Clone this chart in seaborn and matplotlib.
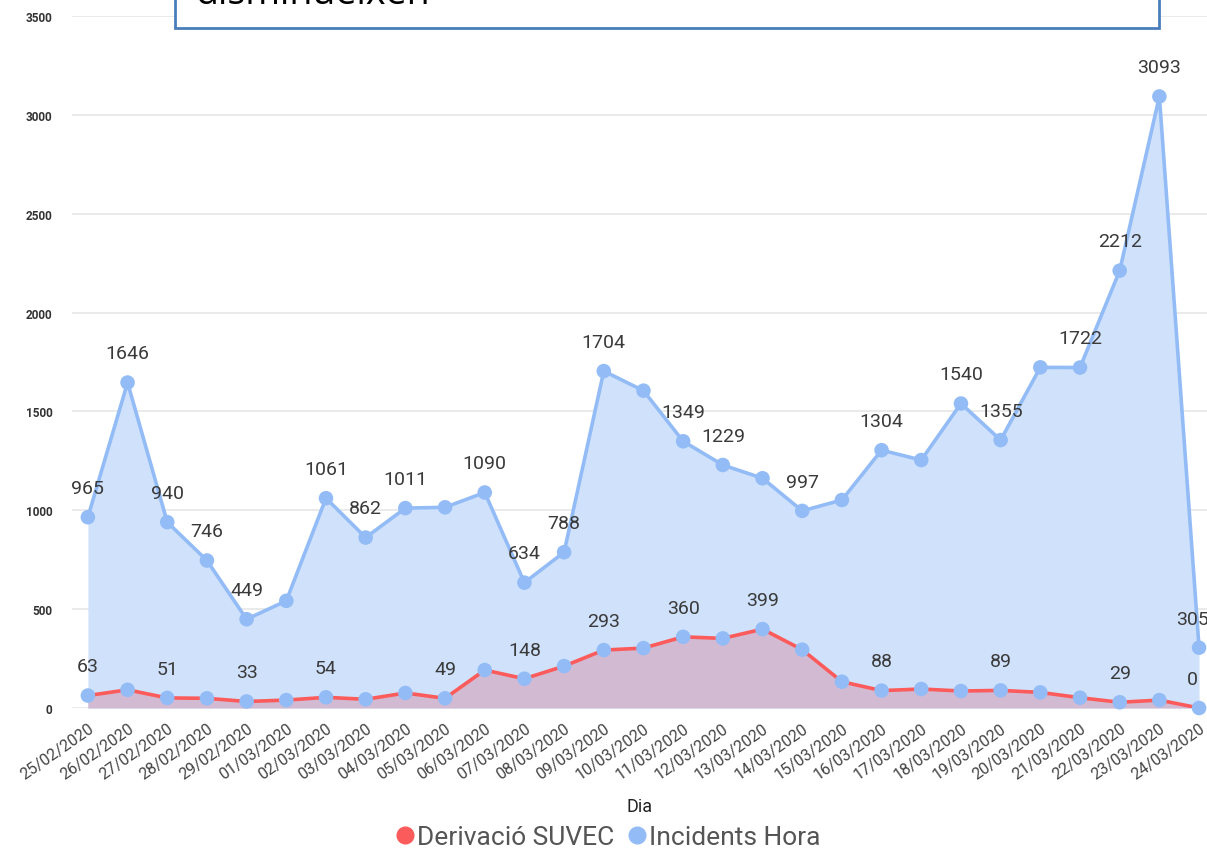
import pandas as pd
import matplotlib.pyplot as plt
import matplotlib.patches as mpatches
from matplotlib.lines import Line2D
import seaborn as sns

dies = ['25/02/2020', '26/02/2020', '27/02/2020', '28/02/2020', '29/02/2020',
        '01/03/2020', '02/03/2020', '03/03/2020', '04/03/2020', '05/03/2020',
        '06/03/2020', '07/03/2020', '08/03/2020', '09/03/2020', '10/03/2020',
        '11/03/2020', '12/03/2020', '13/03/2020', '14/03/2020', '15/03/2020',
        '16/03/2020', '17/03/2020', '18/03/2020', '19/03/2020', '20/03/2020',
        '21/03/2020', '22/03/2020', '23/03/2020', '24/03/2020']
incidents = [965, 1646, 940, 746, 449, 542, 1061, 862, 1011, 1015,
             1090, 634, 788, 1704, 1605, 1349, 1229, 1162, 997, 1052,
             1304, 1254, 1540, 1355, 1723, 1722, 2212, 3093, 305]
derivacio = [63, 92, 51, 49, 33, 40, 54, 44, 76, 49,
             192, 148, 212, 293, 303, 360, 352, 399, 295, 133,
             88, 96, 86, 89, 79, 52, 29, 40, 0]
# which points carry a data label (as in the original report)
lab_inc = [0, 1, 2, 3, 4, 6, 7, 8, 10, 11, 12, 13, 15, 16, 18, 20, 22, 23, 25, 26, 27, 28]
lab_der = [0, 2, 4, 6, 9, 11, 13, 15, 17, 20, 23, 26, 28]

BLUE = '#93bcf7'
RED = '#fb5b5b'
TXT = '#3a3a3a'

df = pd.DataFrame({'idx': range(len(dies)), 'Dia': dies,
                   'Incidents Hora': incidents, 'Derivació SUVEC': derivacio})
long = df.melt(id_vars=['idx', 'Dia'], var_name='serie', value_name='valor')

sns.set_style('white')
plt.rcParams['font.family'] = ['Roboto', 'DejaVu Sans']

fig = plt.figure(figsize=(12.07, 8.54), dpi=100)
ax = fig.add_axes([72 / 1207, 145 / 854, 1135 / 1207, 692 / 854])

ax.fill_between(df['idx'], df['Incidents Hora'], color='#d0e2fb', zorder=1, linewidth=0)
ax.fill_between(df['idx'], df['Derivació SUVEC'], color='#d3bad3', zorder=2, linewidth=0)
sns.lineplot(data=long, x='idx', y='valor', hue='serie',
             palette={'Incidents Hora': BLUE, 'Derivació SUVEC': RED},
             linewidth=2.6, legend=False, ax=ax, zorder=3)
# both series get light blue markers in the original
sns.scatterplot(data=long, x='idx', y='valor', color=BLUE, s=110,
                edgecolor='none', legend=False, ax=ax, zorder=4, clip_on=False)

last = len(dies) - 1
for vals, labs in ((incidents, lab_inc), (derivacio, lab_der)):
    for i in labs:
        dx = -5 if i == last else 0
        ax.annotate(str(vals[i]), (i, vals[i]), xytext=(dx, 21),
                    textcoords='offset points', ha='center', va='center',
                    fontsize=14, color=TXT, annotation_clip=False)

ax.set_xlim(-0.4, 28.2)
ax.set_ylim(0, 3500)
ax.set_yticks(range(0, 3501, 500))
ax.set_yticklabels([str(v) for v in range(0, 3501, 500)], fontsize=8.5,
                   color='#333333', fontweight='bold')
ax.set_xticks(df['idx'])
ax.set_xticklabels(dies, rotation=35, ha='right', rotation_mode='anchor',
                   fontsize=11.5, color='#444444')
ax.tick_params(axis='both', length=0, pad=9)
ax.tick_params(axis='y', pad=14)
ax.grid(axis='y', color='#e6e6e6', linewidth=1.2, zorder=0)
ax.set_axisbelow(True)
for s in ax.spines.values():
    s.set_visible(False)
ax.set_xlabel('Dia', fontsize=13, color='#222222', labelpad=11)
ax.set_ylabel('')

handles = [Line2D([], [], marker='o', linestyle='', color=RED, markersize=12),
           Line2D([], [], marker='o', linestyle='', color=BLUE, markersize=12)]
fig.legend(handles, ['Derivació SUVEC', 'Incidents Hora'], loc='center',
           bbox_to_anchor=(608 / 1207, 1 - 838 / 854), ncol=2, frameon=False,
           fontsize=19, labelcolor='#555555', handletextpad=0.1,
           columnspacing=0.5, handlelength=0.7)

# title box cut at the top of the image
box = mpatches.Rectangle((175 / 1207, 1 - 29 / 854), (1159 - 175) / 1207, 0.2,
                         transform=fig.transFigure, facecolor='white',
                         edgecolor='#4a7ebb', linewidth=2, zorder=10)
fig.add_artist(box)
fig.text(196 / 1207, 1 - 4 / 854, 'disminueixen', fontsize=27, color='black',
         va='baseline', ha='left', zorder=11, family=['Open Sans', 'DejaVu Sans'])

fig.savefig('out.png', dpi=100)
